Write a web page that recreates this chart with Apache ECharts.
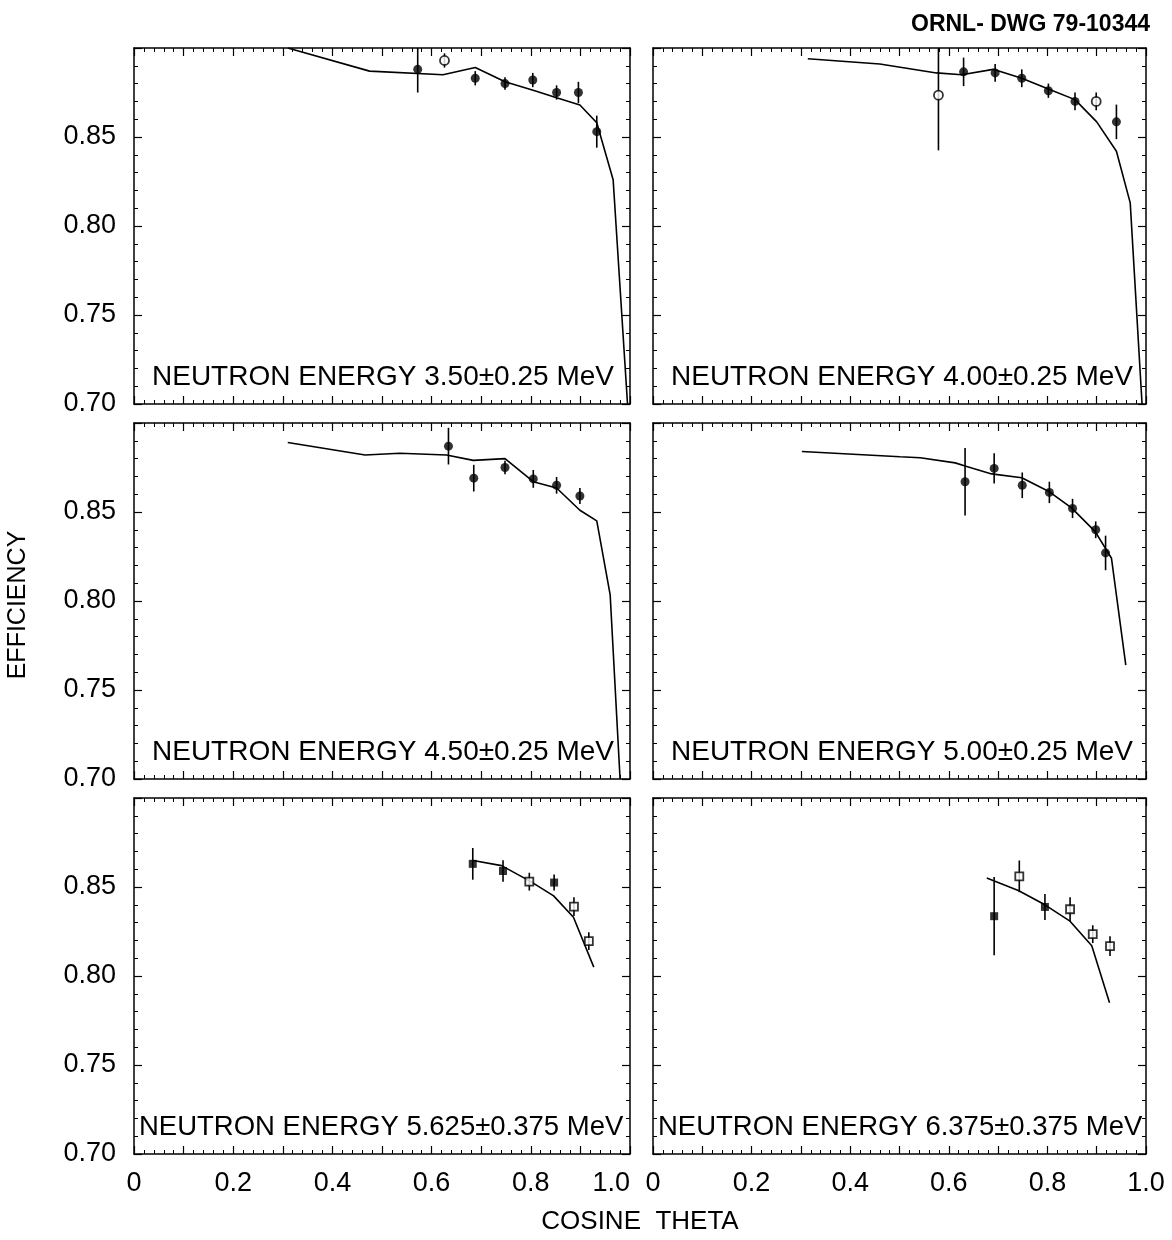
<!DOCTYPE html>
<html>
<head>
<meta charset="utf-8">
<script src="https://cdn.jsdelivr.net/npm/echarts@6/dist/echarts.min.js"></script>
<style>
  html, body { margin: 0; background: #fff; }
  #chart { width: 1172px; height: 1240px; }
</style>
</head>
<body>
<div id="chart"></div>
<script>
// panel labels, row by row
const energyLabels = [
  'NEUTRON ENERGY 3.50±0.25 MeV',
  'NEUTRON ENERGY 4.00±0.25 MeV',
  'NEUTRON ENERGY 4.50±0.25 MeV',
  'NEUTRON ENERGY 5.00±0.25 MeV',
  'NEUTRON ENERGY 5.625±0.375 MeV',
  'NEUTRON ENERGY 6.375±0.375 MeV'
];
const xTickLabels = ['0', '0.2', '0.4', '0.6', '0.8', '1.0'];
const yTickLabels = ['0.70', '0.75', '0.80', '0.85'];

// calculated efficiency curves [cos theta, efficiency]
const curve350 = [[0.31, 0.900], [0.475, 0.887], [0.623, 0.885], [0.688, 0.889], [0.748, 0.881],
  [0.808, 0.876], [0.852, 0.872], [0.899, 0.868], [0.933, 0.858], [0.966, 0.826], [0.995, 0.700]];
const curve400 = [[0.314, 0.894], [0.46, 0.891], [0.575, 0.886], [0.626, 0.885], [0.690, 0.888],
  [0.748, 0.883], [0.802, 0.877], [0.856, 0.871], [0.900, 0.8585], [0.940, 0.842], [0.968, 0.813], [0.992, 0.700]];
const curve450 = [[0.31, 0.889], [0.466, 0.882], [0.536, 0.883], [0.630, 0.882], [0.684, 0.879],
  [0.748, 0.880], [0.805, 0.867], [0.852, 0.8635], [0.899, 0.851], [0.933, 0.845], [0.948, 0.822],
  [0.960, 0.8035], [0.980, 0.700]];
const curve500 = [[0.302, 0.884], [0.501, 0.881], [0.542, 0.8805], [0.613, 0.8776], [0.633, 0.8758],
  [0.687, 0.8714], [0.748, 0.8692], [0.802, 0.8617], [0.849, 0.8523], [0.897, 0.839], [0.930, 0.824], [0.959, 0.764]];
const curve5625 = [[0.681, 0.865], [0.741, 0.862], [0.800, 0.853], [0.846, 0.845], [0.886, 0.833], [0.927, 0.805]];
const curve6375 = [[0.677, 0.855], [0.741, 0.848], [0.795, 0.840], [0.845, 0.831], [0.890, 0.817], [0.926, 0.785]];

// measured points [cos theta, efficiency, error]
const meas350 = [[0.572, 0.888, 0.013], [0.626, 0.893, 0.004], [0.688, 0.883, 0.004], [0.748, 0.880, 0.0035],
  [0.804, 0.882, 0.004], [0.852, 0.875, 0.004], [0.896, 0.875, 0.006], [0.933, 0.853, 0.009]];
const meas400 = [[0.579, 0.8735, 0.031], [0.630, 0.8866, 0.008], [0.694, 0.886, 0.005], [0.748, 0.883, 0.005],
  [0.802, 0.876, 0.004], [0.856, 0.870, 0.005], [0.899, 0.870, 0.005], [0.940, 0.8585, 0.0097]];
const meas450 = [[0.634, 0.887, 0.0103], [0.685, 0.869, 0.0075], [0.748, 0.875, 0.0038],
  [0.805, 0.8686, 0.005], [0.852, 0.865, 0.0047], [0.899, 0.859, 0.0045]];
const meas500 = [[0.633, 0.867, 0.019], [0.692, 0.8745, 0.0085], [0.749, 0.865, 0.0072], [0.804, 0.861, 0.006],
  [0.851, 0.852, 0.0054], [0.898, 0.840, 0.0047], [0.918, 0.827, 0.0097]];
const meas5625 = [[0.683, 0.863, 0.0089], [0.744, 0.859, 0.006], [0.797, 0.853, 0.005],
  [0.847, 0.8525, 0.0045], [0.887, 0.839, 0.0053], [0.917, 0.8196, 0.005]];
const meas6375 = [[0.692, 0.8336, 0.022], [0.743, 0.856, 0.0089], [0.795, 0.8388, 0.0073],
  [0.846, 0.8375, 0.0068], [0.892, 0.8235, 0.005], [0.927, 0.8168, 0.0056]];

const curves = [curve350, curve400, curve450, curve500, curve5625, curve6375];
const measured = [meas350, meas400, meas450, meas500, meas5625, meas6375];
// which markers are drawn open
const openMarks = [[1], [0, 6], [], [], [2, 4, 5], [1, 3, 4, 5]];

const chart = echarts.init(document.getElementById('chart'));
const FONT = 'Liberation Sans';

const colLeft = [134, 653];
const colWidth = [496, 493];
const rowTop = [48, 423, 798];
const rowHeight = 356;

const grids = [], xAxes = [], yAxes = [], series = [], titles = [];

function xAxisFor(i, pos) {
  const col = i % 2, row = Math.floor(i / 2);
  const showLabel = pos === 'bottom' && row === 2;
  return {
    type: 'value', gridIndex: i, position: pos, min: 0, max: 1, interval: 0.1,
    axisLine: { show: true, onZero: false, lineStyle: { color: '#000', width: 1.5 } },
    axisTick: { show: true, inside: true, length: 8, lineStyle: { color: '#000', width: 1.2 } },
    minorTick: { show: true, splitNumber: 5, length: 4, lineStyle: { color: '#000', width: 1 } },
    splitLine: { show: false },
    axisLabel: {
      show: showLabel, margin: 16, color: '#000', fontSize: 27, fontFamily: FONT,
      alignMaxLabel: col === 0 ? 'right' : null,
      formatter: v => {
        const t = Math.round(v * 10);
        return t % 2 ? '' : xTickLabels[t / 2];
      }
    }
  };
}

function yAxisFor(i, pos) {
  const col = i % 2;
  return {
    type: 'value', gridIndex: i, position: pos, min: 0.7, max: 0.9, interval: 0.05,
    axisLine: { show: true, onZero: false, lineStyle: { color: '#000', width: 1.5 } },
    axisTick: { show: true, inside: true, length: 8, lineStyle: { color: '#000', width: 1.2 } },
    minorTick: { show: true, splitNumber: 5, length: 4, lineStyle: { color: '#000', width: 1 } },
    splitLine: { show: false },
    axisLabel: {
      show: pos === 'left' && col === 0, margin: 18, color: '#000', fontSize: 27, fontFamily: FONT,
      formatter: v => {
        const k = Math.round((v - 0.7) / 0.05);
        return yTickLabels[k] || '';
      }
    }
  };
}

for (let i = 0; i < 6; i++) {
  const col = i % 2, row = Math.floor(i / 2);
  grids.push({ left: colLeft[col], top: rowTop[row], width: colWidth[col], height: rowHeight, show: false });
  xAxes[i] = xAxisFor(i, 'bottom');
  xAxes[6 + i] = xAxisFor(i, 'top');
  yAxes[i] = yAxisFor(i, 'left');
  yAxes[6 + i] = yAxisFor(i, 'right');

  series.push({
    type: 'line', xAxisIndex: i, yAxisIndex: i, data: curves[i], showSymbol: false,
    clip: true, lineStyle: { color: '#000', width: 1.6 }, z: 3
  });
  series.push({
    type: 'custom', xAxisIndex: i, yAxisIndex: i, clip: true, z: 2,
    data: measured[i],
    renderItem: (params, api) => {
      const x = api.value(0), y = api.value(1), e = api.value(2);
      const p1 = api.coord([x, y - e]), p2 = api.coord([x, y + e]);
      return {
        type: 'line',
        shape: { x1: p1[0], y1: p1[1], x2: p2[0], y2: p2[1] },
        style: { stroke: '#000', lineWidth: 1.6 }
      };
    }
  });
  const square = row === 2;
  series.push({
    type: 'scatter', xAxisIndex: i, yAxisIndex: i, z: 4,
    symbol: square ? 'rect' : 'circle', symbolSize: square ? 8 : 9,
    data: measured[i].map((d, k) => ({
      value: [d[0], d[1]],
      itemStyle: openMarks[i].includes(k)
        ? { color: '#fff', borderColor: '#000', borderWidth: 1.8 }
        : { color: '#000' }
    }))
  });

  titles.push({
    text: energyLabels[i],
    left: colLeft[col] + (row === 2 ? 5 : 18),
    top: rowTop[row] + rowHeight - 41,
    padding: 0,
    textStyle: { fontSize: row === 2 ? 27.5 : 28, fontWeight: 'normal', color: '#000', fontFamily: FONT }
  });
}

chart.setOption({
  animation: false,
  backgroundColor: '#fff',
  title: titles,
  grid: grids,
  xAxis: xAxes,
  yAxis: yAxes,
  series: series,
  graphic: [
    {
      type: 'text', x: 18, y: 605, rotation: Math.PI / 2,
      style: { text: 'EFFICIENCY', fontSize: 25, fontFamily: FONT, fill: '#000', align: 'center', verticalAlign: 'middle' }
    },
    {
      type: 'text', x: 640, y: 1222,
      style: { text: 'COSINE  THETA', fontSize: 26, fontFamily: FONT, fill: '#000', align: 'center', verticalAlign: 'middle' }
    },
    {
      type: 'text', x: 1150, y: 25,
      style: { text: 'ORNL- DWG 79-10344', fontSize: 23, fontWeight: 'bold', fontFamily: FONT, fill: '#000', align: 'right', verticalAlign: 'middle' }
    }
  ]
});
</script>
</body>
</html>
